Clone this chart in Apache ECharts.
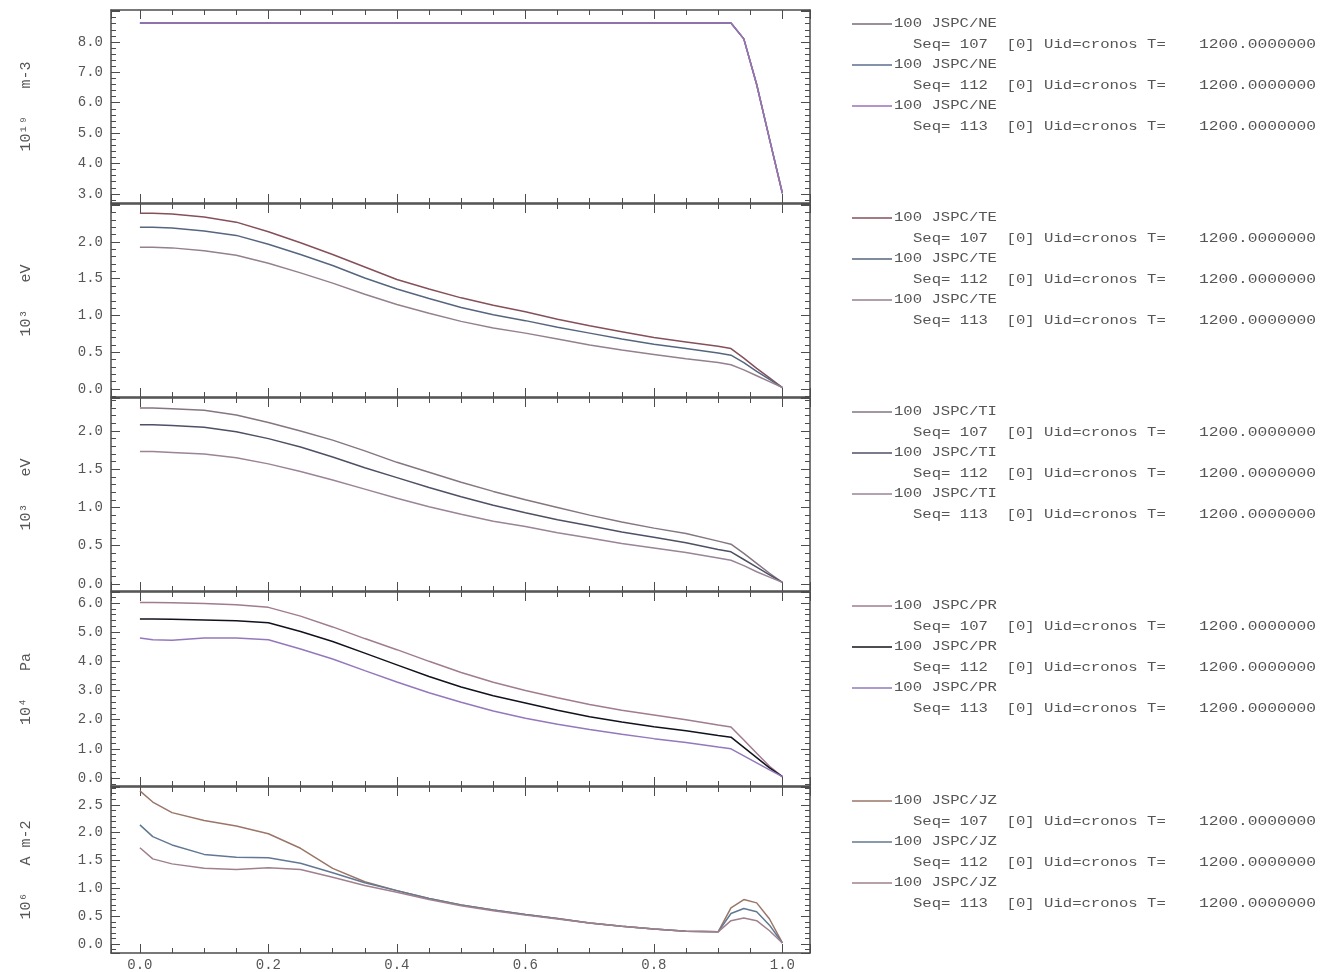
<!DOCTYPE html>
<html>
<head>
<meta charset="utf-8">
<script src="https://cdn.jsdelivr.net/npm/echarts@6/dist/echarts.min.js"></script>
<style>
  html, body { margin: 0; padding: 0; background: #ffffff; }
  #chart { width: 1339px; height: 972px; }
</style>
</head>
<body>
<div id="chart"></div>
<script>
// Normalised radius (rho) sample points shared by every profile
const rho = [0, 0.02, 0.05, 0.1, 0.15, 0.2, 0.25, 0.3, 0.35, 0.4, 0.45, 0.5, 0.55, 0.6,
             0.65, 0.7, 0.75, 0.8, 0.85, 0.9, 0.92, 0.94, 0.96, 0.98, 1.0];

// Shot sequences compared in every panel
const seqs = ['107', '112', '113'];
const quantities = ['NE', 'TE', 'TI', 'PR', 'JZ'];
const unitLabels = ['10¹⁹   m-3', '10³   eV', '10³   eV', '10⁴   Pa', '10⁶   A m-2'];
const shotLabel = '100 JSPC/';
const seqPrefix = 'Seq= ';
const seqSuffix = '  [0] Uid=cronos T=';
const timeLabel = '1200.0000000';

// Electron density (10^19 m-3)
const ne107 = [8.62, 8.62, 8.62, 8.62, 8.62, 8.62, 8.62, 8.62, 8.62, 8.62, 8.62, 8.62, 8.62, 8.62,
               8.62, 8.62, 8.62, 8.62, 8.62, 8.62, 8.62, 8.10, 6.60, 4.80, 3.02];
const ne112 = [8.62, 8.62, 8.62, 8.62, 8.62, 8.62, 8.62, 8.62, 8.62, 8.62, 8.62, 8.62, 8.62, 8.62,
               8.62, 8.62, 8.62, 8.62, 8.62, 8.62, 8.62, 8.10, 6.60, 4.80, 3.02];
const ne113 = [8.62, 8.62, 8.62, 8.62, 8.62, 8.62, 8.62, 8.62, 8.62, 8.62, 8.62, 8.62, 8.62, 8.62,
               8.62, 8.62, 8.62, 8.62, 8.62, 8.62, 8.62, 8.10, 6.60, 4.80, 3.02];

// Electron temperature (keV)
const te107 = [2.39, 2.39, 2.38, 2.34, 2.27, 2.14, 1.99, 1.83, 1.66, 1.49, 1.36, 1.24, 1.14, 1.05,
               0.95, 0.86, 0.78, 0.70, 0.64, 0.58, 0.55, 0.42, 0.28, 0.15, 0.02];
const te112 = [2.20, 2.20, 2.19, 2.15, 2.09, 1.97, 1.83, 1.68, 1.51, 1.36, 1.23, 1.11, 1.01, 0.93,
               0.84, 0.76, 0.68, 0.61, 0.55, 0.49, 0.46, 0.36, 0.24, 0.13, 0.02];
const te113 = [1.93, 1.93, 1.92, 1.88, 1.82, 1.71, 1.58, 1.44, 1.29, 1.15, 1.03, 0.92, 0.83, 0.76,
               0.68, 0.60, 0.53, 0.47, 0.41, 0.36, 0.33, 0.26, 0.18, 0.10, 0.02];

// Ion temperature (keV)
const ti107 = [2.30, 2.30, 2.29, 2.27, 2.21, 2.11, 2.00, 1.88, 1.74, 1.59, 1.46, 1.33, 1.21, 1.10,
               1.00, 0.90, 0.81, 0.73, 0.66, 0.56, 0.52, 0.40, 0.27, 0.14, 0.02];
const ti112 = [2.08, 2.08, 2.07, 2.05, 1.99, 1.90, 1.79, 1.66, 1.52, 1.39, 1.26, 1.14, 1.03, 0.93,
               0.84, 0.76, 0.68, 0.61, 0.54, 0.45, 0.42, 0.32, 0.22, 0.12, 0.02];
const ti113 = [1.73, 1.73, 1.72, 1.70, 1.65, 1.57, 1.47, 1.36, 1.24, 1.12, 1.01, 0.91, 0.82, 0.75,
               0.67, 0.60, 0.53, 0.47, 0.41, 0.34, 0.31, 0.24, 0.16, 0.09, 0.02];

// Total pressure (10^4 Pa)
const pr107 = [6.02, 6.02, 6.01, 5.98, 5.94, 5.85, 5.55, 5.18, 4.78, 4.40, 4.00, 3.62, 3.28, 3.00,
               2.75, 2.52, 2.32, 2.16, 2.00, 1.82, 1.75, 1.30, 0.85, 0.40, 0.05];
const pr112 = [5.45, 5.45, 5.44, 5.42, 5.39, 5.32, 5.02, 4.68, 4.28, 3.88, 3.48, 3.12, 2.82, 2.57,
               2.32, 2.10, 1.92, 1.76, 1.62, 1.46, 1.40, 1.05, 0.70, 0.35, 0.05];
const pr113 = [4.80, 4.74, 4.72, 4.80, 4.80, 4.74, 4.42, 4.08, 3.68, 3.29, 2.92, 2.60, 2.30, 2.05,
               1.84, 1.66, 1.50, 1.35, 1.22, 1.06, 1.00, 0.76, 0.52, 0.28, 0.05];

// Current density (MA m-2)
const jz107 = [2.75, 2.55, 2.36, 2.22, 2.12, 1.98, 1.72, 1.36, 1.12, 0.96, 0.82, 0.70, 0.61, 0.53,
               0.46, 0.38, 0.32, 0.27, 0.23, 0.22, 0.65, 0.80, 0.74, 0.45, 0.02];
const jz112 = [2.14, 1.93, 1.78, 1.61, 1.56, 1.55, 1.45, 1.28, 1.10, 0.96, 0.82, 0.70, 0.61, 0.53,
               0.46, 0.38, 0.32, 0.27, 0.23, 0.22, 0.55, 0.64, 0.58, 0.34, 0.02];
const jz113 = [1.73, 1.53, 1.44, 1.36, 1.34, 1.37, 1.34, 1.20, 1.05, 0.93, 0.80, 0.69, 0.60, 0.52,
               0.45, 0.38, 0.32, 0.27, 0.23, 0.22, 0.42, 0.47, 0.42, 0.24, 0.02];

const profiles = [
  [ne107, ne112, ne113],
  [te107, te112, te113],
  [ti107, ti112, ti113],
  [pr107, pr112, pr113],
  [jz107, jz112, jz113]
];

// Highest tick value that carries a label in each panel
const labelTop = [8.0, 2.0, 2.0, 6.0, 2.5];

// Panel layout: pixel box and value range of each stacked plot
const panels = [
  { top: 10,  height: 193, min: 2.70,   max: 9.05,  split: 6 },
  { top: 204, height: 193, min: -0.109, max: 2.517, split: 5 },
  { top: 398, height: 193, min: -0.092, max: 2.431, split: 5 },
  { top: 592, height: 194, min: -0.274, max: 6.377, split: 6 },
  { top: 787, height: 167, min: -0.16,  max: 2.82,  split: 6 }
];

// Line colours per panel, in sequence order
const colors = [
  ['#7d6a78', '#5c6f8e', '#9c72b4'],
  ['#85505a', '#56667e', '#94808e'],
  ['#857680', '#4e5066', '#9a8496'],
  ['#a07c8e', '#12121e', '#9478bc'],
  ['#9a7668', '#627892', '#a0808e']
];

const FONT = 'Liberation Mono';
const AXIS_COLOR = '#4c4c4c';
const TEXT_COLOR = '#555555';

const grids = [], xAxes = [], yAxes = [], series = [], graphics = [];

panels.forEach((pn, p) => {
  grids.push({ left: 111, right: 529, top: pn.top, height: pn.height, containLabel: false });

  const xBase = {
    gridIndex: p, type: 'value', min: -0.045, max: 1.043, splitNumber: 5,
    axisLine: { show: true, onZero: false, lineStyle: { color: AXIS_COLOR, width: 1.5 } },
    axisTick: { show: true, inside: true, length: 9, lineStyle: { color: AXIS_COLOR, width: 1 } },
    minorTick: { show: true, splitNumber: 4, length: 5, lineStyle: { color: AXIS_COLOR, width: 1 } },
    splitLine: { show: false }
  };
  xAxes.push(Object.assign({}, xBase, {
    position: 'bottom',
    axisLabel: {
      show: p === panels.length - 1, showMinLabel: false, showMaxLabel: false,
      formatter: v => v.toFixed(1), fontFamily: FONT, fontSize: 14, color: TEXT_COLOR, margin: 5
    }
  }));
  xAxes.push(Object.assign({}, xBase, { position: 'top', axisLabel: { show: false } }));

  const yBase = {
    gridIndex: p, type: 'value', min: pn.min, max: pn.max, splitNumber: pn.split,
    axisLine: { show: true, onZero: false, lineStyle: { color: AXIS_COLOR, width: 1.5 } },
    axisTick: { show: true, inside: true, length: 9, lineStyle: { color: AXIS_COLOR, width: 1 } },
    minorTick: { show: true, splitNumber: 5, length: 5, lineStyle: { color: AXIS_COLOR, width: 1 } },
    splitLine: { show: false }
  };
  yAxes.push(Object.assign({}, yBase, {
    position: 'left',
    name: unitLabels[p], nameLocation: 'middle', nameGap: 77, nameRotate: 90,
    nameTextStyle: { fontFamily: FONT, fontSize: 15, color: TEXT_COLOR },
    axisLabel: {
      show: true, showMinLabel: false, showMaxLabel: false,
      formatter: v => (v > labelTop[p] + 1e-6 ? '' : v.toFixed(1)),
      fontFamily: FONT, fontSize: 14, color: TEXT_COLOR, margin: 8
    }
  }));
  yAxes.push(Object.assign({}, yBase, { position: 'right', axisLabel: { show: false } }));

  profiles[p].forEach((vals, i) => {
    series.push({
      type: 'line',
      name: shotLabel + quantities[p] + ' ' + seqs[i],
      xAxisIndex: 2 * p, yAxisIndex: 2 * p,
      data: rho.map((r, k) => [r, vals[k]]),
      showSymbol: false, symbol: 'none', silent: true,
      lineStyle: { color: colors[p][i], width: 1.5 },
      z: 3 + i
    });

    // Legend entry: swatch + two text lines
    const y = pn.top + 14 + i * 41;
    graphics.push({ type: 'line', shape: { x1: 852, y1: y, x2: 892, y2: y },
                    style: { stroke: colors[p][i], lineWidth: 1.5 } });
    graphics.push({ type: 'text', x: 894, y: y, scaleX: 1.2,
                    style: { text: shotLabel + quantities[p], font: '13px "' + FONT + '"',
                             fill: TEXT_COLOR, verticalAlign: 'middle' } });
    graphics.push({ type: 'text', x: 913, y: y + 20.5, scaleX: 1.2,
                    style: { text: seqPrefix + seqs[i] + seqSuffix, font: '13px "' + FONT + '"',
                             fill: TEXT_COLOR, verticalAlign: 'middle' } });
    graphics.push({ type: 'text', x: 1199, y: y + 20.5, scaleX: 1.25,
                    style: { text: timeLabel, font: '13px "' + FONT + '"',
                             fill: TEXT_COLOR, verticalAlign: 'middle' } });
  });
});

const chart = echarts.init(document.getElementById('chart'), null, { renderer: 'canvas' });
chart.setOption({
  backgroundColor: '#ffffff',
  animation: false,
  grid: grids,
  xAxis: xAxes,
  yAxis: yAxes,
  series: series,
  graphic: { elements: graphics }
});
</script>
</body>
</html>
